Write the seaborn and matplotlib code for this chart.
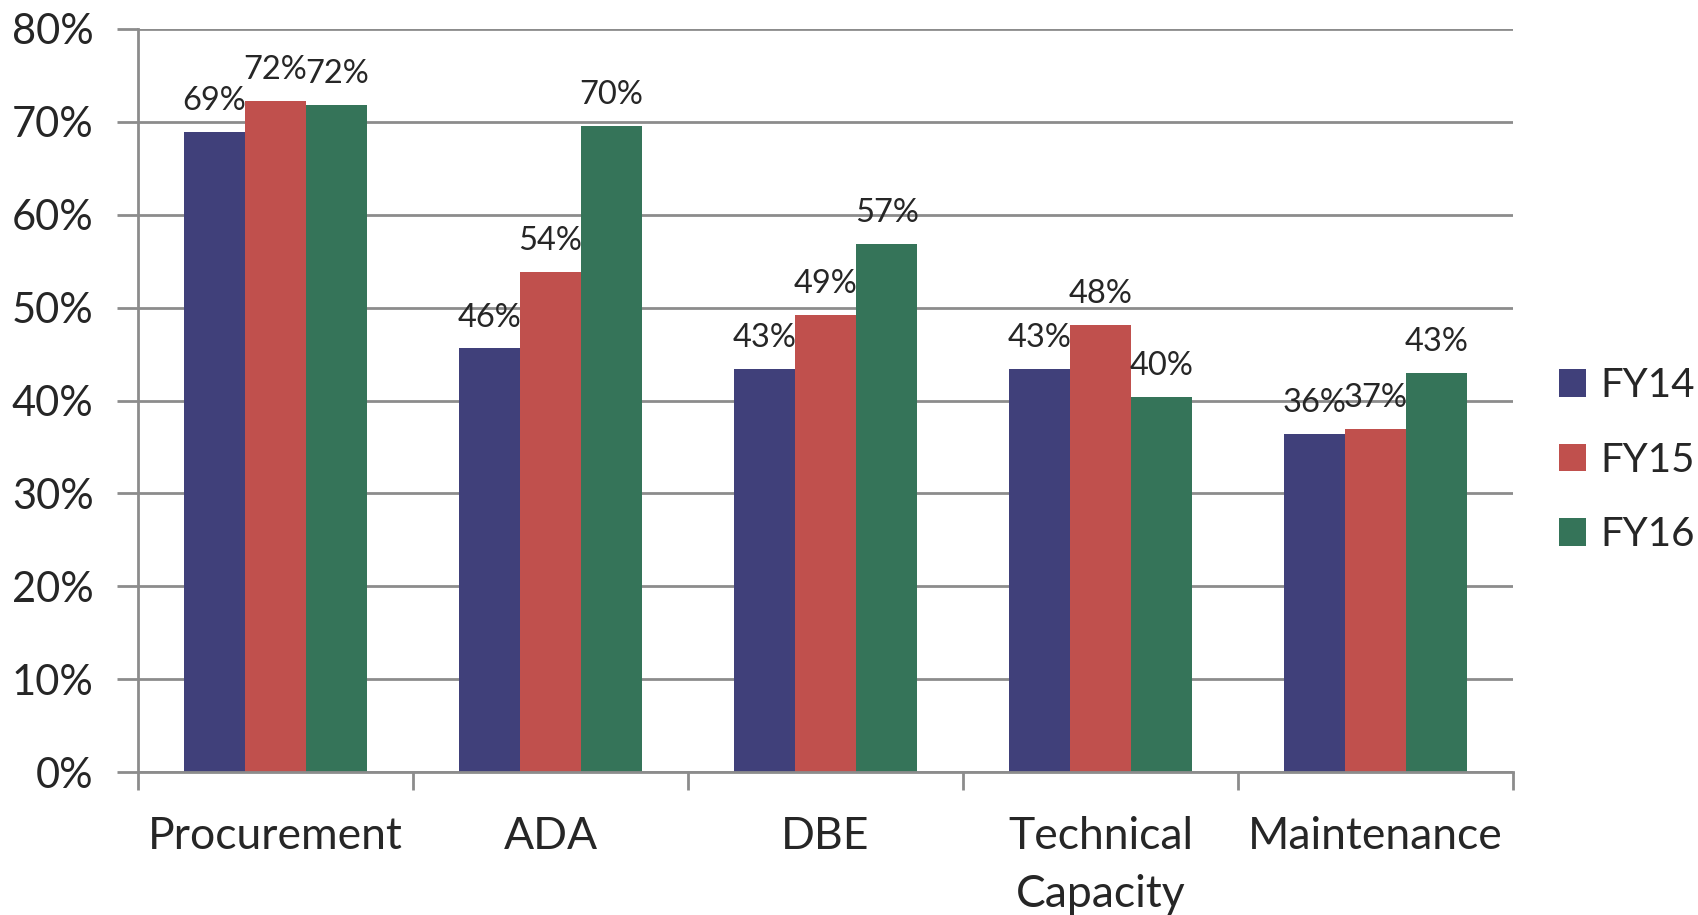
import matplotlib
matplotlib.use("Agg")
import matplotlib.pyplot as plt
import seaborn as sns
import pandas as pd
from matplotlib.ticker import FixedLocator, FuncFormatter

categories = ["Procurement", "ADA", "DBE", "Technical\nCapacity", "Maintenance"]
series_names = ["FY14", "FY15", "FY16"]
fy14 = [68.9, 45.6, 43.4, 43.4, 36.4]
fy15 = [72.3, 53.8, 49.2, 48.1, 36.9]
fy16 = [71.8, 69.6, 56.9, 40.4, 43.0]
label_text = {
    "FY14": ["69%", "46%", "43%", "43%", "36%"],
    "FY15": ["72%", "54%", "49%", "48%", "37%"],
    "FY16": ["72%", "70%", "57%", "40%", "43%"],
}
y_ticks = [0, 10, 20, 30, 40, 50, 60, 70, 80]
colors = ["#40407A", "#C0504D", "#357459"]

rows = []
for name, vals in zip(series_names, [fy14, fy15, fy16]):
    for c, v in zip(categories, vals):
        rows.append({"category": c, "series": name, "value": v})
df = pd.DataFrame(rows)

sns.set_theme(style="white")
plt.rcParams["font.family"] = ["Lato", "DejaVu Sans"]

fig = plt.figure(figsize=(16.98, 9.15), dpi=100)
ax = fig.add_axes([138/1698, 1-772/915, (1513-138)/1698, (772-29)/915])

sns.barplot(data=df, x="category", y="value", hue="series", order=categories,
            hue_order=series_names, palette=colors, width=0.667, gap=0,
            saturation=1, ax=ax, errorbar=None, linewidth=0, legend=True)

ax.set_ylim(0, 80)
ax.set_xlim(-0.5, len(categories) - 0.5)
ax.yaxis.set_major_locator(FixedLocator(y_ticks))
ax.yaxis.set_major_formatter(FuncFormatter(lambda v, p: f"{v:.0f}%"))
ax.grid(axis="y", color="#8C8C8C", linewidth=2)
ax.set_axisbelow(True)
for s in ["top", "right"]:
    ax.spines[s].set_visible(False)
for s in ["left", "bottom"]:
    ax.spines[s].set_color("#8C8C8C")
    ax.spines[s].set_linewidth(2)

ax.tick_params(axis="y", which="major", length=15, width=2, color="#8C8C8C",
               labelsize=30, pad=17, left=True)
n = len(categories)
ax.set_xticks([i - 0.5 for i in range(n + 1)])
ax.set_xticklabels([""] * (n + 1))
ax.set_xticks(list(range(n)), minor=True)
ax.set_xticklabels(categories, minor=True, fontsize=32, linespacing=1.5, va="top")
ax.tick_params(axis="x", which="major", length=13, width=2, color="#8C8C8C", bottom=True)
ax.tick_params(axis="x", which="minor", length=0, pad=32)

ax.set_xlabel("")
ax.set_ylabel("")

for container, name in zip(ax.containers, series_names):
    ax.bar_label(container, labels=label_text[name], fontsize=23.5, padding=11.5)

leg = ax.get_legend()
handles, labels = ax.get_legend_handles_labels()
leg.remove()
fig.legend(handles, labels, loc="center left", bbox_to_anchor=(1559/1698, 1-460/915),
           frameon=False, fontsize=29, handlelength=0.67, handleheight=0.67,
           handletextpad=0.35, labelspacing=0.93, borderpad=0, borderaxespad=0)

fig.savefig("out.png", dpi=100)
